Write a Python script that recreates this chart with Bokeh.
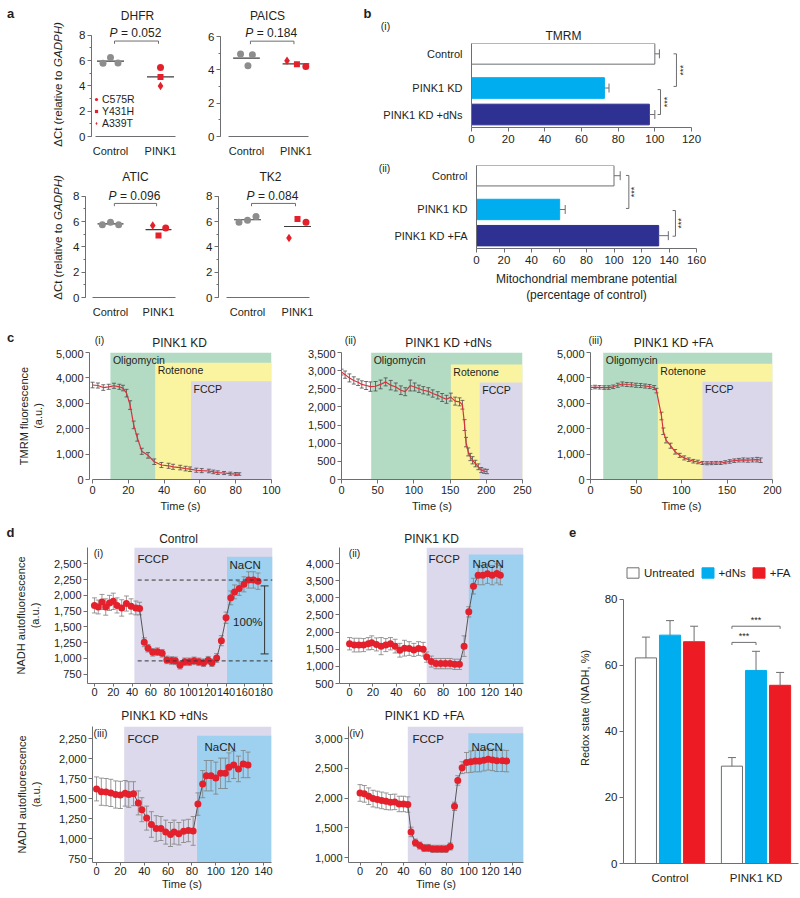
import numpy as np
from bokeh.plotting import figure
from bokeh.layouts import row, column
from bokeh.models import (Range1d, Label, FixedTicker, SingleIntervalTicker,
                          NumeralTickFormatter, Legend, LegendItem)
from bokeh.embed import file_html
from bokeh.resources import INLINE

# ---------------- data: panel a ----------------
a_groups = ["Control", "PINK1"]
mutations = ["C575R", "Y431H", "A339T"]
dhfr_control = [5.8, 6.25, 5.82]
dhfr_pink1 = [5.45, 4.7, 4.0]
paics_control = [4.95, 4.9, 4.25]
paics_pink1 = [4.2, 4.33, 4.55]
atic_control = [5.75, 5.95, 5.75]
atic_pink1 = [5.5, 4.9, 5.7]
tk2_control = [5.95, 6.1, 6.4]
tk2_pink1 = [5.95, 6.2, 4.7]
p_dhfr = "0.052"
p_paics = "0.184"
p_atic = "0.096"
p_tk2 = "0.084"

# ---------------- data: panel b ----------------
tmrm_groups = ["Control", "PINK1 KD", "PINK1 KD +dNs"]
tmrm_mean = [100, 72.5, 97]
tmrm_err = [2.5, 2.5, 3]
mmp_groups = ["Control", "PINK1 KD", "PINK1 KD +FA"]
mmp_mean = [100, 60.5, 132.5]
mmp_err = [4.5, 4, 7]

# ---------------- data: panel c ----------------
c_treatments = ["Oligomycin", "Rotenone", "FCCP"]
c1_time = [0, 3, 6, 9, 12, 15, 17, 19, 21, 23, 25, 27.5, 31, 34.5, 38.5, 42.5, 45, 49, 52, 54.5,
           58, 61, 65, 67.5, 70, 73.5, 77, 80, 82]
c1_tmrm = [3720, 3700, 3620, 3650, 3690, 3650, 3600, 3400, 2930, 2150, 1650, 1110, 950, 700, 570,
           540, 500, 470, 430, 405, 365, 350, 335, 300, 270, 255, 230, 215, 215]
c1_err = [110, 100, 110, 100, 100, 100, 110, 150, 170, 150, 140, 120, 110, 110, 100, 100, 100, 90,
          90, 90, 80, 80, 70, 70, 70, 60, 60, 60, 50]
c1_starts = [10, 35, 55]
c2_time = [0, 5, 11, 17, 23, 28, 34, 40, 47, 54, 61, 68, 75, 82, 88, 95, 101, 107, 113, 120,
           126, 133, 139, 145, 151, 157, 163, 167, 170, 172, 175, 178, 181, 185, 189, 193, 197, 201]
c2_tmrm = [2960, 2890, 2800, 2730, 2680, 2620, 2590, 2560, 2570, 2620, 2690, 2600, 2550, 2460,
           2420, 2590, 2550, 2500, 2460, 2430, 2370, 2320, 2260, 2210, 2270, 2160, 2140, 2060,
           1500, 1030, 760, 620, 530, 440, 350, 260, 230, 220]
c2_err = [80, 100, 110, 100, 90, 100, 110, 130, 130, 120, 110, 130, 110, 120, 110, 150, 110, 100,
          100, 100, 100, 100, 110, 110, 110, 110, 110, 120, 150, 130, 110, 100, 100, 90, 80, 70,
          60, 60]
c2_starts = [41, 151, 191]
c3_time = [0, 5, 10, 15, 20, 25, 30, 35, 40, 45, 50, 55, 60, 65, 70, 72.5, 78, 80, 83, 88, 93, 98,
           103, 108, 113, 118, 123, 128, 133, 138, 143, 148, 153, 158, 163, 168, 173, 178, 183, 187]
c3_tmrm = [3620, 3640, 3630, 3620, 3620, 3650, 3710, 3760, 3740, 3730, 3710, 3700, 3680, 3660,
           3620, 3500, 2500, 1900, 1550, 1330, 1090, 950, 850, 780, 720, 690, 650, 640, 645, 650,
           650, 680, 710, 740, 760, 770, 760, 770, 780, 760]
c3_err = [70, 70, 70, 70, 70, 70, 80, 80, 80, 80, 80, 80, 80, 80, 80, 90, 150, 130, 110, 100, 90,
          80, 80, 70, 70, 70, 60, 60, 60, 60, 60, 60, 70, 70, 70, 80, 80, 80, 90, 90]
c3_starts = [14, 74, 123]

# ---------------- data: panel d ----------------
d1_time = [0, 4, 8, 12, 16, 20, 24, 29, 34, 39, 44, 48, 53, 57, 62, 67, 72, 77, 82, 86, 91, 96,
           101, 106, 111, 116, 121, 125, 130, 135, 140, 145, 149, 154, 159, 164, 169, 174]
d1_nadh = [1840, 1815, 1895, 1815, 1880, 1905, 1840, 1800, 1870, 1825, 1800, 1790, 1255, 1160,
           1095, 1105, 1080, 975, 965, 960, 890, 945, 945, 960, 945, 930, 970, 930, 1005, 1280,
           1645, 1960, 2055, 2110, 2175, 2245, 2245, 2225]
d1_err = [120, 110, 120, 130, 120, 130, 120, 130, 120, 120,
          110, 100, 70, 60, 60, 60, 60, 60, 60, 60,
          60, 60, 60, 60, 60, 60, 60, 60, 70, 80,
          90, 110, 110, 110, 120, 130, 130, 130]
d1_fccp, d1_nacn = 42.5, 141
d1_level_max, d1_level_min = 2243, 959
d2_time = [0, 4, 8, 12, 16, 19, 23, 27, 31, 35, 39, 43, 47, 51, 55, 59, 63, 66, 70, 74, 78, 82,
           86, 90, 94, 98, 102, 106, 110, 114, 118, 122, 126, 129]
d2_nadh = [1660, 1620, 1620, 1620, 1660, 1690, 1640, 1590, 1620, 1660, 1590, 1470, 1530, 1520,
           1480, 1520, 1500, 1270, 1140, 1080, 1080, 1080, 1080, 1060, 1060, 1590, 2590, 3340,
           3660, 3660, 3700, 3660, 3710, 3660]
d2_err = [180, 200, 200, 190, 180, 200, 190, 250, 190, 180,
          200, 200, 230, 200, 190, 200, 200, 150, 160, 150,
          150, 150, 150, 150, 150, 300, 150, 230, 280, 280,
          280, 280, 280, 280]
d2_fccp, d2_nacn = 66, 102
d3_time = [0, 4, 8, 12, 16, 20, 24, 27, 31, 35, 38, 42, 46, 50, 54, 58, 62, 65, 69, 73, 77, 81,
           85, 89, 92, 96, 100, 104, 108, 111, 115, 119, 123, 127]
d3_nadh = [1620, 1585, 1580, 1570, 1550, 1545, 1565, 1550, 1560, 1445, 1360, 1255, 1175, 1125,
           1125, 1080, 1050, 1080, 1060, 1090, 1100, 1095, 1430, 1680, 1785, 1785, 1755, 1815,
           1815, 1890, 1920, 1870, 1930, 1920]
d3_err = [150, 170, 170, 170, 170, 170, 160, 160, 150, 150,
          150, 150, 160, 160, 150, 150, 150, 150, 140, 140,
          140, 180, 140, 170, 190, 190, 200, 190, 190, 180,
          170, 160, 170, 160]
d3_fccp, d3_nacn = 23.2, 84.3
d4_time = [0, 4, 8, 12, 16, 20, 24, 28, 32, 36, 40, 44, 47, 51, 55, 59, 63, 67, 71, 75, 79, 83,
           87, 90, 94, 98, 102, 106, 110, 114, 118, 122, 126, 131, 135]
d4_nadh = [2085, 2070, 2030, 1990, 1975, 1960, 1945, 1930, 1935, 1900, 1900, 1890, 1430, 1250,
           1200, 1160, 1160, 1145, 1145, 1145, 1145, 1185, 1860, 2295, 2510, 2595, 2610, 2620,
           2620, 2635, 2650, 2640, 2625, 2625, 2620]
d4_err = [140, 140, 140, 140, 140, 140, 140, 130, 130, 130,
          130, 130, 80, 60, 60, 60, 60, 60, 60, 60,
          60, 60, 70, 80, 100, 170, 180, 180, 180, 180,
          180, 180, 180, 180, 180]
d4_fccp, d4_nacn = 44, 99.7

# ---------------- data: panel e ----------------
e_groups = ["Control", "PINK1 KD"]
e_treatments = ["Untreated", "+dNs", "+FA"]
e_untreated = [62.3, 29.5]
e_untreated_err = [6.3, 2.6]
e_dns = [69.2, 58.5]
e_dns_err = [4.4, 5.8]
e_fa = [67.2, 54.0]
e_fa_err = [4.7, 3.9]

# ---------------- styles ----------------
FONT = "Liberation Sans"
TXT = "#231f20"
AXC = "#6d6e71"
RED = "#e4202c"
PT_GREY = "#8d8d8d"
LIGHT_BLUE = "#00aeef"
DARK_BLUE = "#2e3192"
E_RED = "#ed1c24"
C_GREEN = "#b3dac3"
C_YELLOW = "#faf3a0"
C_PURPLE = "#dad7ea"
D_PURPLE = "#dcd9ec"
D_BLUE = "#9ed0f0"
C_LINE = "#d8323c"
EB_DARK = "#4d4d4d"
EB_GREY = "#808080"
TICK = "11px"
TITLE = "12px"
TAG = "10.5px"
LETTER = "13px"


def base_fig(**kw):
    p = figure(output_backend="svg", toolbar_location=None, **kw)
    p.title.visible = False
    p.outline_line_color = None
    p.background_fill_color = "white"
    p.border_fill_color = "white"
    return p


def mk(ox, oy, w, h, fx, fy, fw, fh, xr, yr):
    p = base_fig(frame_width=fw, frame_height=fh,
                 x_range=Range1d(*xr), y_range=Range1d(*yr),
                 min_border_left=fx - ox, min_border_right=w - (fx - ox) - fw,
                 min_border_top=fy - oy, min_border_bottom=h - (fy - oy) - fh)
    p.xgrid.visible = False
    p.ygrid.visible = False
    for ax in p.axis:
        ax.axis_line_color = AXC
        ax.axis_line_width = 1
        ax.major_tick_line_color = AXC
        ax.minor_tick_line_color = None
        ax.major_tick_in = 0
        ax.major_tick_out = 4
        ax.minor_tick_in = 0
        ax.minor_tick_out = 2
        ax.major_label_text_font = FONT
        ax.major_label_text_font_size = TICK
        ax.major_label_text_color = TXT
        ax.major_label_standoff = 2
        ax.axis_label_text_font = FONT
        ax.axis_label_text_font_size = "11px"
        ax.axis_label_text_font_style = "normal"
        ax.axis_label_text_color = TXT
        ax.axis_label_standoff = 4
    return p, (fx, fy, xr, yr, fw, fh)


def strip(ox, oy, w, h, texts):
    """A text band: its frame covers the whole band, data units = page pixels."""
    p = base_fig(width=w, height=h, x_range=Range1d(ox, ox + w), y_range=Range1d(oy + h, oy),
                 x_axis_type=None, y_axis_type=None,
                 min_border_left=0, min_border_right=0, min_border_top=0,
                 min_border_bottom=0)
    for t in texts:
        tx, px, py, size, style = t[:5]
        align = t[5] if len(t) > 5 else "center"
        angle = t[6] if len(t) > 6 else 0.0
        p.add_layout(Label(x=px, y=py, text=tx, text_font=FONT, text_font_size=size,
                           text_font_style=style, text_align=align, angle=angle,
                           text_baseline="middle", text_color=TXT))
    return p


def T(p, inf, px, py, text, size="11px", align="center", baseline="middle",
      style="normal", angle=0.0, color=TXT):
    fx, fy, xr, yr, fw, fh = inf
    p.add_layout(Label(x=xr[0], y=yr[1], x_offset=px - fx, y_offset=fy - py, text=text,
                       text_font=FONT, text_font_size=size, text_align=align,
                       text_baseline=baseline, text_font_style=style, angle=angle,
                       text_color=color))


def errbars(p, t, v, e, color, cap, width=0.8, both=True):
    t = np.asarray(t, float)
    v = np.asarray(v, float)
    e = np.asarray(e, float)
    lo = v - e if both else v
    p.segment(x0=t, x1=t, y0=lo, y1=v + e, line_color=color, line_width=width)
    ys = np.concatenate([v - e, v + e]) if both else v + e
    xs = np.concatenate([t, t]) if both else t
    p.scatter(x=xs, y=ys, marker="dash", size=cap, line_color=color, line_width=width)


# ---------------- panel a ----------------
def panel_a(ox, oy, w, h, fx, fy, fw, fh, xr, ymax, ytop, pval, ctrl, pink, cdx, pdx,
            p_py, br_y, br_leg, xb, legend=False):
    p, inf = mk(ox, oy, w, h, fx, fy, fw, fh, xr, (0, ymax))
    yax = p.yaxis[0]
    xax = p.xaxis[0]
    yax.ticker = SingleIntervalTicker(interval=2, num_minor_ticks=2)
    yax.minor_tick_line_color = AXC
    yax.bounds = (0, ytop)
    yax.major_label_text_font_size = "11.5px"
    xax.ticker = FixedTicker(ticks=[1, 2])
    xax.major_label_overrides = {1: a_groups[0], 2: a_groups[1]}
    xax.major_tick_line_color = None
    xax.major_label_standoff = 4
    xax.major_label_text_font_size = "11px"
    xax.bounds = xb
    cm = float(np.mean(ctrl))
    pm = float(np.mean(pink))
    p.segment(x0=[0.73, 1.73], x1=[1.27, 2.27], y0=[cm, pm], y1=[cm, pm],
              line_color="#3c3c3c", line_width=1.2)
    p.scatter(x=[1 + d for d in cdx], y=ctrl, marker="circle", size=7,
              fill_color=PT_GREY, line_color=None)
    items = []
    for i, (m, sz) in enumerate(zip(["circle", "square", "diamond"], [7, 6, 8.5])):
        r = p.scatter(x=[2 + pdx[i]], y=[pink[i]], marker=m, size=sz,
                      fill_color=RED, line_color=None)
        items.append(LegendItem(label=mutations[i], renderers=[r]))
    p.line(x=[1.08, 1.08, 1.96, 1.96], y=[br_y - br_leg, br_y, br_y, br_y - br_leg],
           line_color=AXC, line_width=1)
    cx = fx + (1.5 - xr[0]) * fw / (xr[1] - xr[0])
    T(p, inf, cx - 17.9, p_py, "P", size="12px", align="right", style="italic")
    T(p, inf, cx - 14.5, p_py, "= " + pval, size="12px", align="left")
    if legend:
        lg = Legend(items=items, location=(1, 7), orientation="vertical",
                    glyph_width=8, glyph_height=10, label_height=10, label_standoff=2,
                    spacing=0, padding=0, margin=0, border_line_color=None,
                    background_fill_alpha=0, label_text_font=FONT,
                    label_text_font_size="10.5px", label_text_color=TXT)
        p.add_layout(lg)
    return p


# rotated y label of panel a: "ΔCt (relative to " + italic "GADPH)"
YL_A1 = "\u0394Ct (relative to"
YL_A2 = "GADPH)"
YL_FS = 11.5
YL_L1 = 6.614 * YL_FS
YL_L2 = 3.889 * YL_FS
YL_GAP = 0.33 * YL_FS


def ylab_a(cx, cy):
    start = cy + (YL_L1 + YL_GAP + YL_L2) / 2
    return [(YL_A1, cx, start, "%.1fpx" % YL_FS, "normal", "left", np.pi / 2),
            (YL_A2, cx, start - YL_L1 - YL_GAP, "%.1fpx" % YL_FS, "italic", "left", np.pi / 2)]


s_aleft = strip(0, 0, 70, 318, [("a", 10, 13, LETTER, "bold")] + ylab_a(57, 84) +
                ylab_a(57, 237))
s_a1 = strip(70, 0, 290, 25, [("DHFR", 137, 15, TITLE, "normal"),
                             ("PAICS", 267, 15, TITLE, "normal")])
f_dhfr = panel_a(70, 25, 120, 130, 91, 26, 91, 110, (0.62, 2.44), 8.7, 8, p_dhfr,
                 dhfr_control, dhfr_pink1, [-0.15, 0.0, 0.15], [0, 0, 0],
                 32, 7.55, 0.22, (0.7, 2.3), legend=True)
f_paics = panel_a(190, 25, 170, 130, 220, 26, 92, 110, (0.475, 2.335), 6.6, 6, p_paics,
                  paics_control, paics_pink1, [-0.12, 0.12, 0.03], [0.2, 0.02, -0.18],
                  32, 5.72, 0.18, (0.64, 2.26))
s_a2 = strip(70, 155, 290, 25, [("ATIC", 135, 172, TITLE, "normal"),
                               ("TK2", 270, 172, TITLE, "normal")])
f_atic = panel_a(70, 180, 120, 138, 85, 183, 97, 110, (0.479, 2.5), 8.7, 8, p_atic,
                 atic_control, atic_pink1, [-0.17, 0.0, 0.17], [0.15, 0.0, -0.12],
                 191, 7.44, 0.22, (0.62, 2.36))
f_tk2 = panel_a(190, 180, 170, 138, 218, 183, 94, 110, (0.42, 2.3), 8.7, 8, p_tk2,
                tk2_control, tk2_pink1, [-0.17, 0.0, 0.17], [0.17, 0.0, -0.17],
                191, 7.44, 0.22, (0.58, 2.24))

# ---------------- panel b ----------------
B_POS = [2.78, 1.49, 0.49]


def panel_b(ox, oy, w, h, fx, fy, fw, fh, xmax, groups, vals, errs, brackets, stars, cap_dx):
    p, inf = mk(ox, oy, w, h, fx, fy, fw, fh, (0, xmax), (0, 3.17))
    cols = ["white", LIGHT_BLUE, DARK_BLUE]
    p.hbar(y=B_POS, left=0, right=vals, height=0.78, fill_color=cols,
           line_color=[AXC, LIGHT_BLUE, DARK_BLUE], line_width=1)
    up = [v + e for v, e in zip(vals, errs)]
    p.segment(x0=vals, x1=up, y0=B_POS, y1=B_POS, line_color=AXC, line_width=1)
    p.scatter(x=up, y=B_POS, marker="dash", angle=np.pi / 2, size=9, line_color=AXC,
              line_width=1)
    for (bx, y0, y1), (sx, sy) in zip(brackets, stars):
        p.line(x=[bx - cap_dx, bx, bx, bx - cap_dx], y=[y0, y0, y1, y1],
               line_color=AXC, line_width=1)
        p.add_layout(Label(x=sx, y=sy, text="***", angle=np.pi / 2, text_font=FONT,
                           text_font_size="9px", text_align="center",
                           text_baseline="middle", text_color=TXT))
    yax = p.yaxis[0]
    xax = p.xaxis[0]
    yax.ticker = FixedTicker(ticks=B_POS)
    yax.major_label_overrides = {B_POS[i]: groups[i] for i in range(3)}
    yax.major_tick_line_color = None
    yax.major_label_standoff = 5
    yax.major_label_text_font_size = "11px"
    xax.ticker = SingleIntervalTicker(interval=20, num_minor_ticks=0)
    xax.major_label_standoff = 3
    xax.major_label_text_font_size = "11.5px"
    return p


s_b = strip(360, 0, 439, 42, [("b", 367, 13, LETTER, "bold"),
                             ("(i)", 385, 25, TAG, "normal"),
                             ("TMRM", 563, 35, TITLE, "normal")])
f_tmrm = panel_b(360, 42, 439, 108, 471, 43, 220, 84, 120, tmrm_groups, tmrm_mean,
                 tmrm_err, [(111.8, 2.78, 1.55), (103.1, 1.43, 0.49)],
                 [(115.4, 2.16), (106.6, 0.96)], 1.6)
s_ii = strip(360, 150, 31, 168, [("(ii)", 384, 167, TAG, "normal")])
f_mmp = panel_b(391, 150, 408, 168, 472, 165, 220, 83, 160, mmp_groups, mmp_mean,
                mmp_err, [(110.8, 2.79, 1.53), (144.7, 1.45, 0.47)],
                [(114.6, 2.16), (148.6, 0.96)], 2.1)
f_mmp.xaxis[0].axis_label = "Mitochondrial membrane potential\n(percentage of control)"
f_mmp.xaxis[0].axis_label_standoff = 5
f_mmp.xaxis[0].axis_label_text_font_size = "12px"


# ---------------- panel c ----------------
def panel_c(ox, oy, w, h, fx, fy, fw, fh, xr, ymax, xint, yint, xb, t, v, e, starts, tops,
            ylabel=None):
    p, inf = mk(ox, oy, w, h, fx, fy, fw, fh, xr, (0, ymax))
    p.quad(left=starts, right=[xr[1]] * 3, bottom=[0] * 3, top=tops,
           fill_color=[C_GREEN, C_YELLOW, C_PURPLE], line_color=None)
    for s, tp, nm in zip(starts, tops, c_treatments):
        p.add_layout(Label(x=s, y=tp, x_offset=2.5, y_offset=-1.5, text=nm, text_font=FONT,
                           text_font_size="10.5px", text_color=TXT, text_align="left",
                           text_baseline="top"))
    errbars(p, t, v, e, EB_DARK, 4, 0.8)
    p.line(t, v, line_color=C_LINE, line_width=1.2)
    xax = p.xaxis[0]
    yax = p.yaxis[0]
    xax.ticker = SingleIntervalTicker(interval=xint, num_minor_ticks=0)
    xax.bounds = xb
    xax.axis_label = "Time (s)"
    xax.axis_label_standoff = 3
    yax.ticker = SingleIntervalTicker(interval=yint, num_minor_ticks=0)
    yax.formatter = NumeralTickFormatter(format="0,0")
    if ylabel:
        yax.axis_label = ylabel
        yax.axis_label_standoff = 9
    return p


s_c = strip(0, 318, 799, 27, [("c", 10, 333, LETTER, "bold"),
                             ("(i)", 99, 335, TAG, "normal"),
                             ("PINK1 KD", 179, 338, TITLE, "normal"),
                             ("(ii)", 350, 335, TAG, "normal"),
                             ("PINK1 KD +dNs", 448, 338, TITLE, "normal"),
                             ("(iii)", 595, 335, TAG, "normal"),
                             ("PINK1 KD +FA", 673, 338, TITLE, "normal")])
f_c1 = panel_c(0, 345, 300, 175, 89, 348, 182, 127, (-1.7, 100), 5000, 20, 1000, (0, 100),
               c1_time, c1_tmrm, c1_err, c1_starts, [5000, 4600, 3870],
               ylabel="TMRM fluorescence\n(a.u.)")
f_c2 = panel_c(300, 345, 253, 175, 341, 348, 181, 127, (0, 250), 3500, 50, 500, (0, 250),
               c2_time, c2_tmrm, c2_err, c2_starts, [3500, 3170, 2670])
f_c3 = panel_c(553, 345, 246, 175, 589, 348, 182, 127, (0, 200), 5000, 50, 1000, (0, 200),
               c3_time, c3_tmrm, c3_err, c3_starts, [5000, 4560, 3850])


# ---------------- panel d ----------------
def panel_d(ox, oy, w, h, fx, fy, fw, fh, xr, yr, xticks, yticks, t, v, e, fccp, nacn,
            nacn_top, tag, tag_pos, fccp_pos, nacn_pos, ylabel=False, xlabel=False,
            ylab_so=12):
    p, inf = mk(ox, oy, w, h, fx, fy, fw, fh, xr, yr)
    p.quad(left=[fccp], right=[xr[1]], bottom=[yr[0]], top=[yr[1]], fill_color=D_PURPLE,
           line_color=None)
    p.quad(left=[nacn], right=[xr[1]], bottom=[yr[0]], top=[nacn_top], fill_color=D_BLUE,
           line_color=None)
    T(p, inf, fccp_pos[0], fccp_pos[1], "FCCP", size="11.5px", align="left")
    T(p, inf, nacn_pos[0], nacn_pos[1], "NaCN", size="11.5px", align="left")
    errbars(p, t, v, e, EB_GREY, 5, 0.8)
    p.line(t, v, line_color="#555555", line_width=1)
    p.scatter(t, v, marker="circle", size=7, fill_color=RED, line_color=None)
    xax = p.xaxis[0]
    yax = p.yaxis[0]
    xax.ticker = FixedTicker(ticks=xticks)
    yax.ticker = FixedTicker(ticks=yticks)
    yax.formatter = NumeralTickFormatter(format="0,0")
    xax.major_tick_out = 3
    xax.major_label_standoff = 1
    if xlabel:
        xax.axis_label = "Time (s)"
        xax.axis_label_standoff = 0
    if ylabel:
        yax.axis_label = "NADH autofluorescence\n(a.u.)"
        yax.axis_label_standoff = ylab_so
    T(p, inf, tag_pos[0], tag_pos[1], tag, size=TAG)
    return p, inf


d1_xticks = [0, 20, 40, 60, 80, 100, 120, 140, 160, 180]
d1_yticks = [750, 1000, 1250, 1500, 1750, 2000, 2250, 2500]
d2_xticks = [0, 20, 40, 60, 80, 100, 120, 140]
d2_yticks = [500, 1000, 1500, 2000, 2500, 3000, 3500, 4000]
d3_yticks = [750, 1000, 1250, 1500, 1750, 2000, 2250]
d4_yticks = [1000, 1500, 2000, 2500, 3000]

s_d = strip(0, 520, 799, 21, [("d", 10, 528, LETTER, "bold"),
                             ("Control", 178, 534, TITLE, "normal"),
                             ("PINK1 KD", 431, 534, TITLE, "normal"),
                             ("e", 572, 528, LETTER, "bold")])
f_d1, i_d1 = panel_d(0, 541, 298, 159, 87, 543, 185, 136, (-7.4, 189.4), (600, 2760),
                     d1_xticks, d1_yticks, d1_time, d1_nadh, d1_err, d1_fccp, d1_nacn, 2612,
                     "(i)", (98, 548), (137, 554), (229, 560), ylabel=True, ylab_so=10)
f_d1.segment(x0=[46, 46], x1=[189.4, 189.4], y0=[d1_level_max, d1_level_min],
             y1=[d1_level_max, d1_level_min], line_color="#333333", line_width=1,
             line_dash="4 3")
f_d1.segment(x0=[181], x1=[181], y0=[1070], y1=[2150], line_color="#333333", line_width=1)
f_d1.scatter(x=[181, 181], y=[1070, 2150], marker="dash", size=8, line_color="#333333",
             line_width=1)
T(f_d1, i_d1, 262, 617, "100%", size="11.5px", align="right")

f_d2, i_d2 = panel_d(298, 541, 264, 159, 339, 543, 184, 136, (-8.6, 148.8), (500, 4467),
                     d2_xticks, d2_yticks, d2_time, d2_nadh, d2_err, d2_fccp, d2_nacn, 4262,
                     "(ii)", (354, 548), (428, 554), (472, 559))
s_d2 = strip(0, 700, 562, 20, [("PINK1 KD +dNs", 164, 711, TITLE, "normal"),
                              ("PINK1 KD +FA", 424, 711, TITLE, "normal")])
f_d3, i_d3 = panel_d(0, 720, 298, 177, 92, 722, 179, 136, (-3.4, 146.7), (700, 2400),
                     d2_xticks, d3_yticks, d3_time, d3_nadh, d3_err, d3_fccp, d3_nacn, 2283,
                     "(iii)", (100, 728), (127, 734), (204, 742),
                     ylabel=True, xlabel=True, ylab_so=14)
f_d4, i_d4 = panel_d(298, 720, 264, 177, 348, 722, 175, 136, (-10.6, 150.5), (916, 3202),
                     d2_xticks, d4_yticks, d4_time, d4_nadh, d4_err, d4_fccp, d4_nacn, 3087,
                     "(iv)", (356, 728), (412, 734), (471, 742), xlabel=True)

# ---------------- panel e ----------------
e_fill = ["white", LIGHT_BLUE, E_RED]
e_line = [AXC, LIGHT_BLUE, E_RED]

f_e, i_e = mk(562, 541, 237, 356, 623, 548, 175, 311, (0.459, 2.494), (0, 94.24))
E_OFF = [-0.28, 0.0, 0.28]
e_vals = [e_untreated, e_dns, e_fa]
e_errs = [e_untreated_err, e_dns_err, e_fa_err]
e_items = []
for k in range(3):
    xs = [1 + E_OFF[k], 2 + E_OFF[k]]
    r = f_e.vbar(x=xs, top=e_vals[k], bottom=0, width=0.245, fill_color=e_fill[k],
                 line_color=e_line[k], line_width=1)
    e_items.append(LegendItem(label=e_treatments[k], renderers=[r]))
    errbars(f_e, xs, e_vals[k], e_errs[k], AXC, 8, 1, both=False)
f_e.add_layout(Legend(items=e_items, location=(2, 284), orientation="horizontal",
                      glyph_width=15, glyph_height=13, label_height=13, label_standoff=4,
                      spacing=5, padding=0, margin=0, border_line_color=None,
                      background_fill_alpha=0, label_text_font=FONT,
                      label_text_font_size="11.5px", label_text_color=TXT))
f_e.line(x=[1.72, 1.72, 2.0, 2.0], y=[66.2, 67.0, 67.0, 66.2], line_color=AXC, line_width=1)
f_e.line(x=[1.72, 1.72, 2.28, 2.28], y=[71.1, 71.9, 71.9, 71.1], line_color=AXC, line_width=1)
f_e.add_layout(Label(x=1.86, y=67.0, y_offset=1, text="***", text_font=FONT,
                     text_font_size="9px", text_align="center", text_baseline="bottom",
                     text_color=TXT))
f_e.add_layout(Label(x=2.0, y=71.9, y_offset=1, text="***", text_font=FONT,
                     text_font_size="9px", text_align="center", text_baseline="bottom",
                     text_color=TXT))
ex = f_e.xaxis[0]
ey = f_e.yaxis[0]
ex.ticker = FixedTicker(ticks=[1, 2])
ex.major_label_overrides = {1: e_groups[0], 2: e_groups[1]}
ex.major_tick_line_color = None
ex.major_label_standoff = 4
ex.major_label_text_font_size = "11.5px"
ey.ticker = SingleIntervalTicker(interval=20, num_minor_ticks=0)
ey.bounds = (0, 80)
ey.major_label_text_font_size = "11.5px"
ey.axis_label = "Redox state (NADH, %)"
ey.axis_label_standoff = 11

# ---------------- layout ----------------
a_right = column(s_a1, row(f_dhfr, f_paics), s_a2, row(f_atic, f_tk2))
a_block = row(s_aleft, a_right)
b_block = column(s_b, row(f_tmrm), row(s_ii, column(f_mmp)))
row1 = row(a_block, b_block)
row2 = column(s_c, row(f_c1, f_c2, f_c3))
d_block = column(row(f_d1, f_d2), s_d2, row(f_d3, f_d4))
row3 = column(s_d, row(d_block, f_e))
page = column(row1, row2, row3)

open("out.html", "w").write(file_html(page, INLINE, title="figure"))
